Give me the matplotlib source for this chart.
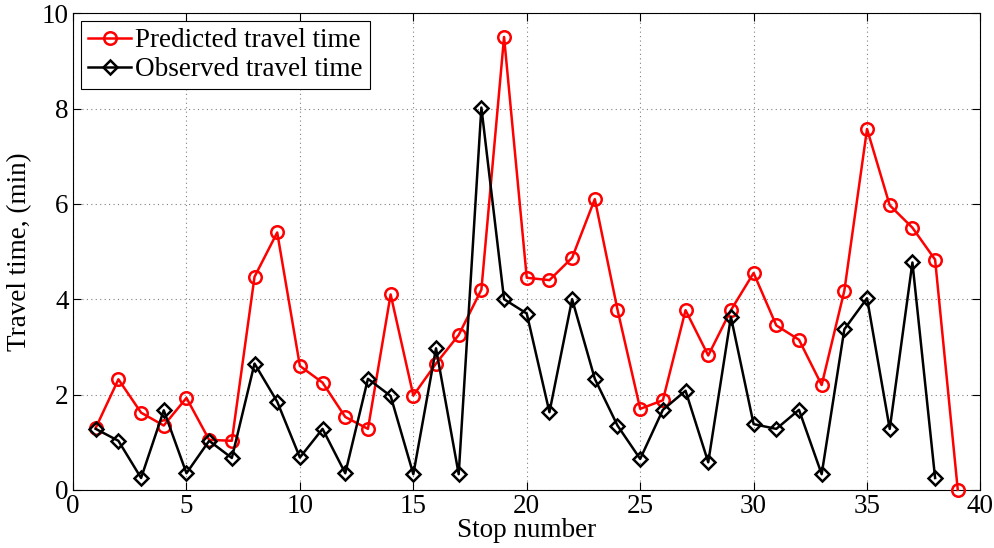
import numpy as np
import matplotlib
matplotlib.use('Agg')
import matplotlib.pyplot as plt

plt.rcParams['font.family'] = ['Liberation Serif', 'DejaVu Serif']
plt.rcParams['mathtext.fontset'] = 'stix'

# travel time per stop, minutes
stops_pred = np.arange(1, 40)
predicted = [1.30, 2.32, 1.62, 1.35, 1.93, 1.05, 1.03, 4.47, 5.40, 2.60,
             2.25, 1.53, 1.28, 4.10, 1.98, 2.65, 3.25, 4.20, 9.50, 4.45,
             4.40, 4.87, 6.10, 3.78, 1.70, 1.88, 3.77, 2.82, 3.77, 4.55,
             3.45, 3.15, 2.20, 4.18, 7.57, 5.97, 5.50, 4.83, 0.00]

stops_obs = np.arange(1, 39)
observed = [1.28, 1.03, 0.25, 1.67, 0.35, 1.03, 0.67, 2.65, 1.85, 0.68,
            1.28, 0.35, 2.33, 1.97, 0.33, 2.97, 0.33, 8.02, 4.00, 3.70,
            1.63, 4.00, 2.33, 1.35, 0.65, 1.68, 2.08, 0.58, 3.63, 1.38,
            1.28, 1.68, 0.33, 3.37, 4.02, 1.28, 4.77, 0.25]

fs = 19.5

fig = plt.figure(figsize=(9.95, 5.48), dpi=100)
ax = fig.add_axes([0.0734, 0.106, 0.912, 0.870])

ax.plot(stops_pred, predicted, color='red', marker='o', markersize=9,
        markerfacecolor='none', markeredgewidth=1.8, linewidth=1.8,
        label='Predicted travel time', clip_on=False, zorder=3)
ax.plot(stops_obs, observed, color='black', marker='D', markersize=7,
        markerfacecolor='none', markeredgewidth=1.8, linewidth=1.8,
        label='Observed travel time', clip_on=False, zorder=3)

ax.set_xlim(0, 40)
ax.set_ylim(0, 10)
ax.set_xticks(np.arange(0, 41, 5))
ax.set_yticks(np.arange(0, 11, 2))
ax.tick_params(direction='in', top=True, right=True, labelsize=fs,
               length=6, width=0.8, pad=3)
ax.grid(True, linestyle=(0, (1, 3)), color='gray', linewidth=0.8)

ax.set_xlabel('Stop number', fontsize=fs, labelpad=-1)
ax.set_ylabel('Travel time, (min)', fontsize=fs, labelpad=7)

leg = ax.legend(loc='upper left', fontsize=fs, fancybox=False,
                framealpha=1, edgecolor='black', borderpad=0.25,
                handlelength=1.6, handletextpad=0.15, labelspacing=0.15,
                borderaxespad=0.3)
leg.get_frame().set_linewidth(0.8)

fig.savefig('out.png', dpi=100)
